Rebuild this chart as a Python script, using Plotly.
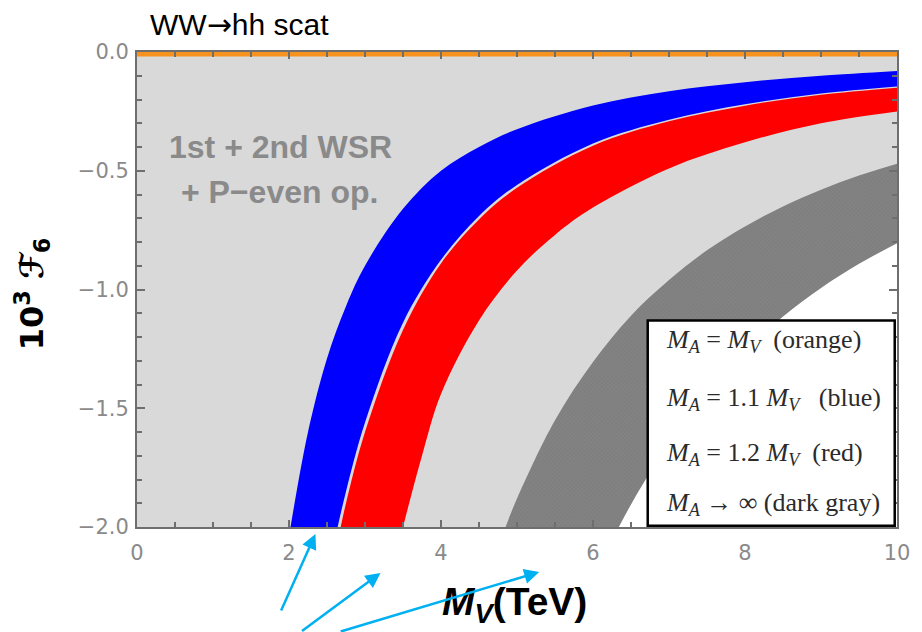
import plotly.graph_objects as go

# Boundary curves of the allowed bands, 10^3 F6 vs M_V (TeV)
blue_upper_x = [2.02, 2.25, 2.5, 2.75, 3.0, 3.5, 4.0, 4.5, 5.0, 6.0, 7.0, 8.0, 9.0, 10.0]
blue_upper_y = [-2.0, -1.60, -1.29, -1.07, -0.90, -0.66, -0.50, -0.40, -0.325, -0.225, -0.165, -0.127, -0.10, -0.08]
blue_lower_x = [2.64, 2.75, 3.0, 3.5, 4.0, 4.5, 5.0, 6.0, 7.0, 8.0, 9.0, 10.0]
blue_lower_y = [-2.0, -1.85, -1.56, -1.14, -0.875, -0.69, -0.56, -0.385, -0.285, -0.22, -0.175, -0.145]

red_upper_x = [2.68, 2.75, 3.0, 3.5, 4.0, 4.5, 5.0, 6.0, 7.0, 8.0, 9.0, 10.0]
red_upper_y = [-2.0, -1.90, -1.60, -1.17, -0.89, -0.705, -0.572, -0.395, -0.292, -0.226, -0.18, -0.15]
red_lower_x = [3.50, 3.75, 4.0, 4.5, 5.0, 5.5, 6.0, 7.0, 8.0, 9.0, 10.0]
red_lower_y = [-2.0, -1.70, -1.44, -1.13, -0.92, -0.77, -0.655, -0.49, -0.38, -0.30, -0.25]

gray_upper_x = [4.85, 5.0, 5.5, 6.0, 6.5, 7.0, 7.5, 8.0, 8.5, 9.0, 9.5, 10.0]
gray_upper_y = [-2.0, -1.88, -1.55, -1.305, -1.11, -0.96, -0.835, -0.735, -0.65, -0.58, -0.52, -0.47]
gray_lower_x = [6.34, 6.5, 7.0, 7.5, 8.0, 8.5, 9.0, 9.5, 10.0]
gray_lower_y = [-2.0, -1.905, -1.643, -1.431, -1.258, -1.114, -0.994, -0.892, -0.805]

# M_A = M_V gives a vanishing coefficient
orange_x = [0.0, 10.0]
orange_y = [0.0, 0.0]

x_ticks = [0, 2, 4, 6, 8, 10]
x_tick_text = ["0", "2", "4", "6", "8", "10"]
y_ticks = [0.0, -0.5, -1.0, -1.5, -2.0]
y_tick_text = ["0.0", "\u22120.5", "\u22121.0", "\u22121.5", "\u22122.0"]

legend_lines = [
    "<i>M</i><sub><i>A</i></sub> = <i>M</i><sub><i>V</i></sub>  (orange)",
    "<i>M</i><sub><i>A</i></sub> = 1.1 <i>M</i><sub><i>V</i></sub>   (blue)",
    "<i>M</i><sub><i>A</i></sub> = 1.2 <i>M</i><sub><i>V</i></sub>  (red)",
    "<i>M</i><sub><i>A</i></sub> \u2192 \u221e (dark gray)",
]

LIGHT = "#d9d9d9"
FRAME = "#6e6e6e"
CYAN = "#00b0f0"

fig = go.Figure()

def band(xl, yl, xu, yu, color, fill_kw=None):
    fig.add_trace(go.Scatter(x=xl, y=yl, mode="lines", line=dict(width=0, shape="spline"),
                             hoverinfo="skip", showlegend=False))
    kw = dict(x=xu, y=yu, mode="lines", line=dict(width=0, shape="spline", color=color),
              fill="tonexty", fillcolor=color, hoverinfo="skip", showlegend=False)
    if fill_kw:
        kw.update(fill_kw)
    fig.add_trace(go.Scatter(**kw))

# white region below the M_A -> infinity band
band([gray_lower_x[0], 10.0], [-2.0, -2.0], gray_lower_x, gray_lower_y, "#ffffff")
# dark gray band (hatched)
band(gray_lower_x, gray_lower_y, gray_upper_x, gray_upper_y, "#828282",
     dict(fillpattern=dict(shape="x", size=3, solidity=0.25, fgcolor="#959595", bgcolor="#7f7f7f")))
# red and blue bands
band(red_lower_x, red_lower_y, red_upper_x, red_upper_y, "#ff0000")
band(blue_lower_x, blue_lower_y, blue_upper_x, blue_upper_y, "#0000ff")

# orange line at zero (clipped to the plot area, so only its lower half shows)
fig.add_trace(go.Scatter(x=orange_x, y=orange_y, mode="lines",
                         line=dict(color="#f7921e", width=9), cliponaxis=True,
                         hoverinfo="skip", showlegend=False))

tick_font = dict(family="DejaVu Sans", size=21, color="#8a8a8a")

fig.update_xaxes(range=[0, 10], showgrid=False, zeroline=False, showline=True, linecolor=FRAME,
                 linewidth=2, mirror="ticks", ticks="inside", ticklen=7, tickwidth=1.5,
                 tickcolor=FRAME, tickvals=x_ticks, ticktext=x_tick_text, tickfont=tick_font,
                 ticklabelstandoff=6,
                 minor=dict(dtick=0.5, ticks="inside", ticklen=5, tickwidth=1.5, tickcolor=FRAME))
fig.update_yaxes(range=[-2, 0], showgrid=False, zeroline=False, showline=True, linecolor=FRAME,
                 linewidth=2, mirror="ticks", ticks="inside", ticklen=8, tickwidth=1.5,
                 tickcolor=FRAME, tickvals=y_ticks, ticktext=y_tick_text, tickfont=tick_font,
                 ticklabelstandoff=2,
                 minor=dict(dtick=0.1, ticks="inside", ticklen=5, tickwidth=1.5, tickcolor=FRAME))

# legend box
fig.add_shape(type="rect", xref="x", yref="y", x0=6.72, x1=9.97, y0=-1.995, y1=-1.13,
              fillcolor="#ffffff", line=dict(color="#000000", width=2.5), layer="above")

annotations = []
legend_y = [-1.216, -1.460, -1.692, -1.902]
for txt, yv in zip(legend_lines, legend_y):
    annotations.append(dict(x=6.93, y=yv, xref="x", yref="y", text=txt, showarrow=False,
                            xanchor="left", yanchor="middle",
                            font=dict(family="Liberation Serif", size=26, color="#2b2b2b")))

# in-plot label, two lines
label_font = dict(family="Liberation Sans", size=32, color="#8a8a8a")
annotations.append(dict(x=1.89, y=-0.40, xref="x", yref="y", text="<b>1st + 2nd WSR</b>",
                        showarrow=False, xanchor="center", yanchor="middle", font=label_font))
annotations.append(dict(x=1.87, y=-0.59, xref="x", yref="y", text="<b>+ P\u2212even op.</b>",
                        showarrow=False, xanchor="center", yanchor="middle", font=label_font))

# title
annotations.append(dict(x=0.014, y=1.057, xref="paper", yref="paper",
                        text="WW<span style=\"font-family:'DejaVu Sans'\">\u2192</span>hh scat",
                        showarrow=False, xanchor="left", yanchor="middle",
                        font=dict(family="Liberation Sans", size=30, color="#000000")))

# axis titles
annotations.append(dict(x=0.497, y=-0.164, xref="paper", yref="paper",
                        text="<b><i>M</i><sub><i>V</i></sub>(TeV)</b>",
                        showarrow=False, xanchor="center", yanchor="middle",
                        font=dict(family="Liberation Sans", size=39, color="#000000")))
annotations.append(dict(x=-0.138, y=0.49, xref="paper", yref="paper",
                        text="<b>10<sup>3</sup> \u2131<sub>6</sub></b>", textangle=-90,
                        showarrow=False, xanchor="center", yanchor="middle",
                        font=dict(family="DejaVu Sans", size=32, color="#000000")))

# pointer arrows
for hx, hy, ax, ay in [(0.2348, -0.0147, -35, 78), (0.3204, -0.0968, -80, 64),
                       (0.5292, -0.0947, -200, 64)]:
    annotations.append(dict(x=hx, y=hy, xref="paper", yref="paper", text="", showarrow=True,
                            ax=ax, ay=ay, arrowhead=2, arrowsize=1.2, arrowwidth=2.5,
                            arrowcolor=CYAN))

fig.update_layout(
    width=922, height=632,
    margin=dict(l=137, r=14, t=52, b=105),
    paper_bgcolor="#ffffff", plot_bgcolor=LIGHT,
    showlegend=False, annotations=annotations,
)

fig.write_html("out.html")
